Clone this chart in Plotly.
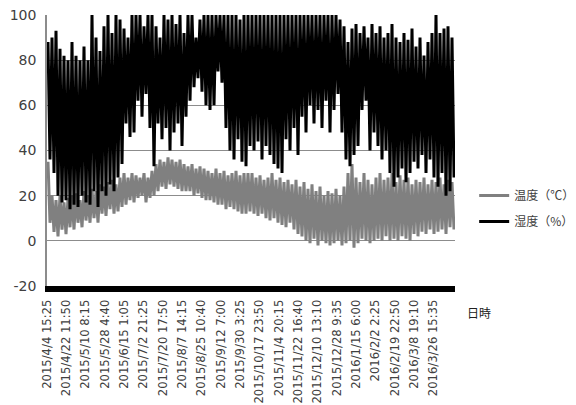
import plotly.graph_objects as go

# Tick labels (category axis labels of the original chart)
tick_labels = [
    "2015/4/4 15:25", "2015/4/22 11:50", "2015/5/10 8:15", "2015/5/28 4:40",
    "2015/6/15 1:05", "2015/7/2 21:25", "2015/7/20 17:50", "2015/8/7 14:15",
    "2015/8/25 10:40", "2015/9/12 7:00", "2015/9/30 3:25", "2015/10/17 23:50",
    "2015/11/4 20:15", "2015/11/22 16:40", "2015/12/10 13:10", "2015/12/28 9:35",
    "2016/1/15 6:00", "2016/2/2 2:25", "2016/2/19 22:50", "2016/3/8 19:10",
    "2016/3/26 15:35",
]
y_ticks = [-20, 0, 20, 40, 60, 80, 100]
y_tick_text = ["-20", "0", "20", "40", "60", "80", "100"]

# Humidity (%) : upper / lower envelope, read per short time slice
hum_hi = [88, 90, 93, 85, 82, 80, 88, 82, 80, 86, 80, 100, 90, 84, 95, 100, 92, 100, 98, 94,
          90, 100, 100, 100, 95, 100, 100, 95, 90, 100, 98, 100, 96, 100, 92, 100, 100, 90, 98, 100,
          100, 100, 100, 100, 100, 100, 100, 100, 98, 100, 100, 100, 100, 100, 100, 100, 100, 100, 100, 100,
          100, 100, 100, 100, 100, 100, 100, 100, 100, 100, 100, 100, 100, 98, 95, 88, 94, 96, 92, 95,
          90, 96, 92, 95, 90, 92, 96, 90, 88, 92, 89, 94, 86, 90, 82, 88, 92, 100, 92, 94,
          95, 90]
hum_lo = [36, 30, 20, 17, 18, 14, 16, 15, 20, 17, 16, 22, 15, 22, 20, 25, 22, 28, 34, 52,
          46, 48, 62, 55, 65, 50, 33, 52, 45, 50, 40, 48, 52, 42, 55, 62, 68, 72, 66, 60,
          58, 60, 75, 70, 50, 40, 36, 45, 35, 33, 42, 40, 44, 36, 42, 38, 34, 32, 30, 45,
          40, 50, 38, 55, 48, 60, 52, 58, 50, 62, 48, 58, 65, 48, 36, 33, 38, 42, 58, 62,
          40, 48, 42, 36, 40, 30, 24, 28, 32, 26, 30, 35, 32, 38, 30, 36, 28, 24, 30, 20,
          22, 28]

# Temperature (deg C) : upper / lower envelope, same slices
temp_hi = [35, 20, 18, 20, 17, 19, 20, 21, 18, 22, 20, 23, 22, 25, 24, 26, 27, 25, 28, 30,
           28, 30, 29, 28, 30, 28, 31, 34, 36, 35, 37, 36, 35, 36, 34, 33, 34, 32, 33, 32,
           31, 30, 32, 30, 31, 29, 30, 31, 29, 30, 30, 30, 28, 29, 27, 28, 30, 27, 28, 26,
           27, 25, 27, 24, 26, 23, 25, 22, 24, 20, 22, 21, 23, 20, 24, 30, 34, 28, 26, 30,
           27, 25, 28, 30, 27, 28, 30, 26, 29, 27, 28, 25, 27, 26, 28, 25, 27, 26, 28, 25,
           27, 26]
temp_lo = [8, 4, 2, 5, 3, 6, 5, 8, 6, 9, 8, 10, 8, 12, 11, 14, 12, 13, 15, 16,
           18, 17, 19, 20, 17, 19, 20, 22, 24, 23, 25, 24, 23, 22, 22, 22, 20, 21, 19, 18,
           18, 17, 16, 16, 14, 15, 14, 13, 12, 12, 13, 12, 11, 12, 10, 9, 10, 8, 7, 6,
           8, 5, 3, 2, 0, -1, 1, -2, 0, -1, -2, -1, 0, -2, -1, 0, -3, -1, 1, 0,
           -1, 0, 1, 0, 2, 0, 1, 0, 2, 1, 0, 3, 2, 4, 3, 5, 3, 4, 5, 3,
           6, 5]

n_slices = len(hum_hi)
x_span = 21.1  # axis length in label-spacing units
slice_w = x_span / n_slices


def zigzag(hi, lo):
    xs, ys = [], []
    for i, (h, l) in enumerate(zip(hi, lo)):
        xs += [(i + 0.25) * slice_w, (i + 0.75) * slice_w]
        ys += [h, l]
    return xs, ys


tx, ty = zigzag(temp_hi, temp_lo)
hx, hy = zigzag(hum_hi, hum_lo)

fig = go.Figure()
fig.add_trace(go.Scatter(x=tx, y=ty, mode="lines", name="温度（℃）",
                         line=dict(color="#808080", width=3), legendgroup="t"))
fig.add_trace(go.Scatter(x=hx, y=hy, mode="lines", name="湿度（%）",
                         line=dict(color="#000000", width=3), legendgroup="h"))

fig.update_layout(
    width=568, height=397,
    margin=dict(l=39, r=121, t=7, b=119, autoexpand=False),
    paper_bgcolor="white", plot_bgcolor="white",
    font=dict(family="DejaVu Sans", color="#404040"),
    showlegend=True,
    legend=dict(x=1.047, xanchor="left", y=0.286, yanchor="middle",
                font=dict(family="Noto Sans CJK JP", size=12, color="#404040"),
                tracegroupgap=7, bgcolor="rgba(0,0,0,0)"),
    xaxis=dict(range=[0, x_span], tickmode="array",
               tickvals=list(range(len(tick_labels))), ticktext=tick_labels,
               tickangle=-90, tickfont=dict(size=11.6, color="#404040"),
               showgrid=False, zeroline=False, showline=True,
               linecolor="black", linewidth=6, ticks="", ticklabelstandoff=3),
    yaxis=dict(range=[-20, 100], tickmode="array", tickvals=y_ticks,
               ticktext=y_tick_text, showgrid=True, gridcolor="#8c8c8c",
               gridwidth=1, zeroline=False, showline=True, linecolor="#8c8c8c",
               linewidth=1.5, tickfont=dict(size=14, color="#404040"), ticks="",
               ticklabelstandoff=6, ticklabeloverflow="allow"),
    annotations=[dict(text="日時", xref="paper", yref="paper", x=1.059, y=-0.096,
                      xanchor="center", yanchor="middle",
                      showarrow=False, font=dict(family="Noto Sans CJK JP", size=12,
                                                 color="#202020"))],
)

fig.write_html("out.html")
